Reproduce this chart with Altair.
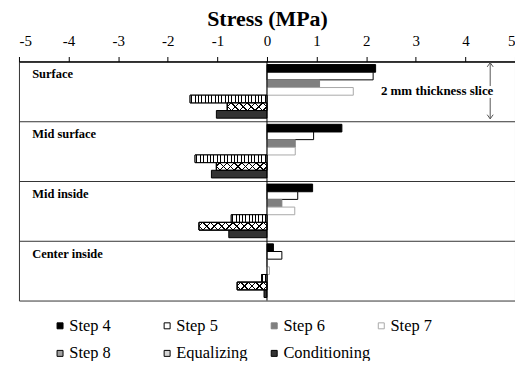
import altair as alt
import pandas as pd

# ---------------- data ----------------
groups = ["Surface", "Mid surface", "Mid inside", "Center inside"]
series = ["Step 4", "Step 5", "Step 6", "Step 7", "Step 8", "Equalizing", "Conditioning"]

step4 = [2.19, 1.51, 0.92, 0.13]
step5 = [2.14, 0.94, 0.62, 0.30]
step6 = [1.06, 0.57, 0.30, 0.00]
step7 = [1.74, 0.57, 0.56, 0.05]
step8 = [-1.55, -1.45, -0.72, -0.11]
equalizing = [-0.80, -1.02, -1.37, -0.60]
conditioning = [-1.02, -1.12, -0.77, -0.06]

x_ticks = [-5, -4, -3, -2, -1, 0, 1, 2, 3, 4, 5]
annotation = "2 mm thickness slice"

values = {
    "Step 4": step4, "Step 5": step5, "Step 6": step6, "Step 7": step7,
    "Step 8": step8, "Equalizing": equalizing, "Conditioning": conditioning,
}
df = pd.DataFrame(
    [{"group": g, "series": s, "value": values[s][i]}
     for s in series for i, g in enumerate(groups)]
)
df_groups = pd.DataFrame({"group": groups})
df_zero = pd.DataFrame({"value": [0]})
df_ann = pd.DataFrame({"group": [groups[0]], "ax": [4.5], "tx": [3.43], "label": [annotation]})

# ---------------- layout / style ----------------
W, H = 498, 240
PX = W / (x_ticks[-1] - x_ticks[0])
BAND = H / len(groups)
PO = 0.4
BAR_H = BAND / (len(series) + 2 * PO)
SERIF = "Liberation Serif"

fill_range = ["#000000", "#ffffff", "#808080", "#ffffff", "#a0a0a0", "#d4d4d4", "#333333"]
stroke_range = ["#000000", "#000000", "#808080", "#a8a8a8", "#000000", "#000000", "#000000"]

xs = alt.Scale(domain=[x_ticks[0], x_ticks[-1]], nice=False)
ys = alt.Scale(domain=groups, paddingInner=0, paddingOuter=0)
yos = alt.Scale(domain=series, paddingInner=0, paddingOuter=PO)

x_axis = alt.Axis(orient="top", values=x_ticks, title="Stress (MPa)", grid=False,
                  labelFont=SERIF, labelFontSize=15, labelColor="black", labelPadding=8,
                  labelExpr="'' + datum.value",
                  tickColor="black", tickSize=5, domainColor="black",
                  titleFont=SERIF, titleFontSize=22, titleFontWeight="bold",
                  titleColor="black", titlePadding=3)
y_axis = alt.Axis(title=None, labels=False, ticks=False, domain=False, grid=True,
                  bandPosition=0, gridColor="#333333", gridWidth=1, gridOpacity=1)

legend = alt.Legend(title=None, orient="none", legendX=33, legendY=257, columns=4,
                    direction="horizontal", gridAlign="all", symbolType="square",
                    symbolSize=36, symbolStrokeWidth=1, labelFont=SERIF,
                    labelFontSize=16.5, labelColor="black", labelOffset=1,
                    columnPadding=2.5, rowPadding=10.8, padding=0)


def X(field):
    return alt.X(field, type="quantitative", scale=xs, axis=x_axis, title="Stress (MPa)")


def Y(**kw):
    return alt.Y("group:N", scale=ys, axis=y_axis, **kw)


base = alt.Chart(df).mark_bar(strokeWidth=1).encode(
    x=X("value"),
    y=Y(),
    yOffset=alt.YOffset("series:N", scale=yos),
    fill=alt.Fill("series:N", scale=alt.Scale(domain=series, range=fill_range), legend=legend),
    stroke=alt.Stroke("series:N", scale=alt.Scale(domain=series, range=stroke_range), legend=legend),
)


def stripes(n, lw_frac, line_color, bg):
    stops = [{"offset": 0, "color": bg}]
    for i in range(n):
        c = (i + 0.5) / n
        a = round(max(0.0, c - lw_frac / 2), 5)
        b = round(min(1.0, c + lw_frac / 2), 5)
        stops += [{"offset": a, "color": bg}, {"offset": a, "color": line_color},
                  {"offset": b, "color": line_color}, {"offset": b, "color": bg}]
    stops.append({"offset": 1, "color": bg})
    return stops


def overlay(group, name, fill):
    return alt.Chart(df).transform_filter(
        (alt.datum.group == group) & (alt.datum.series == name)
    ).mark_bar(fill=fill, stroke="black", strokeWidth=1).encode(
        x=X("value"),
        y=Y(),
        yOffset=alt.YOffset("series:N", scale=yos),
    )


overlays = []
# vertical stripes for Step 8
for g, v in zip(groups, step8):
    w = abs(v) * PX
    n = max(1, round(w / 3.4))
    grad = {"gradient": "linear", "x1": 0, "y1": 0, "x2": 1, "y2": 0,
            "stops": stripes(n, 1.0 / max(w, 1), "#000000", "#ffffff")}
    overlays.append(overlay(g, "Step 8", grad))
# cross hatch for Equalizing
for g, v in zip(groups, equalizing):
    w = abs(v) * PX
    h = BAR_H
    L = w + h
    k = h / w
    s = L / (w * (1 + k * k))
    n = max(1, round(L / 7.6))
    lw = 1.4 / L
    gA = {"gradient": "linear", "x1": 0, "y1": 0, "x2": round(s, 5), "y2": round(s * k, 5),
          "stops": stripes(n, lw, "#000000", "#ffffff")}
    gB = {"gradient": "linear", "x1": 0, "y1": 1, "x2": round(s, 5), "y2": round(1 - s * k, 5),
          "stops": stripes(n, lw, "#000000", "rgba(255,255,255,0)")}
    overlays.append(overlay(g, "Equalizing", gA))
    overlays.append(overlay(g, "Equalizing", gB))

zero = alt.Chart(df_zero).mark_rule(color="black", strokeWidth=1).encode(x=X("value"))

labels = alt.Chart(df_groups).mark_text(
    align="left", baseline="middle", dx=13.3, dy=12.8, font=SERIF,
    fontWeight="bold", fontSize=12.5, color="black"
).encode(x=alt.datum(x_ticks[0]), y=Y(bandPosition=0), text="group:N")

arrow = alt.Chart(df_ann).mark_rule(color="#555555", strokeWidth=1).encode(
    x=X("ax"),
    y=Y(bandPosition=0.02),
    y2=alt.Y2("group", bandPosition=0.96),
)
head_up = alt.Chart(df_ann).mark_point(
    shape="M-1,1.4L0,0L1,1.4", size=36, filled=False, stroke="#555555",
    strokeWidth=1, opacity=1
).encode(x=X("ax"), y=Y(bandPosition=0.02))
head_down = alt.Chart(df_ann).mark_point(
    shape="M-1,-1.4L0,0L1,-1.4", size=36, filled=False, stroke="#555555",
    strokeWidth=1, opacity=1
).encode(x=X("ax"), y=Y(bandPosition=0.96))
halo = alt.Chart(df_ann).mark_text(
    font=SERIF, fontWeight="bold", fontSize=13, fill="white", stroke="white",
    strokeWidth=6, align="center", baseline="middle"
).encode(x=X("tx"), y=Y(), text="label:N")
ann_text = alt.Chart(df_ann).mark_text(
    font=SERIF, fontWeight="bold", fontSize=13, color="black",
    align="center", baseline="middle"
).encode(x=X("tx"), y=Y(), text="label:N")

chart = alt.layer(base, *overlays, zero, labels, arrow, head_up, head_down, halo, ann_text).properties(
    width=W, height=H,
    padding={"left": 11, "top": 53, "right": 0, "bottom": 60},
    autosize=alt.AutoSizeParams(type="none"),
).configure_view(stroke="#333333", strokeWidth=1)

chart.save("out.html", embed_options={"renderer": "svg", "actions": False})
